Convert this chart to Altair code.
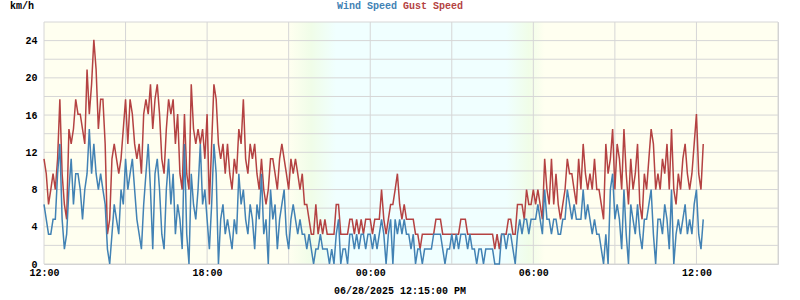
import altair as alt
import pandas as pd

# ---- data (km/h), 5-minute samples from 12:00 ----
gust_a = [11.3, 9.7, 6.4, 8.0, 9.7, 8.0, 11.3, 17.7, 9.7, 6.4,
          4.8, 14.5, 12.9, 14.5, 17.7, 16.1, 16.1, 14.5, 12.9, 20.9,
          16.1, 19.3, 24.1, 20.9, 14.5, 17.7, 17.7, 12.9, 3.2, 4.8,
          11.3, 12.9, 11.3, 9.7, 11.3, 14.5, 17.7, 12.9, 17.7, 16.1,
          12.9, 11.3, 12.9, 9.7, 16.1, 17.7, 16.1, 19.3, 14.5, 17.7]
wind_a = [6.4, 4.8, 3.2, 3.2, 4.8, 4.8, 9.7, 12.9, 4.8, 1.6,
          3.2, 8.0, 11.3, 6.4, 9.7, 9.7, 8.0, 4.8, 8.0, 9.7,
          14.5, 9.7, 12.9, 9.7, 8.0, 9.7, 8.0, 6.4, 1.6, 0,
          3.2, 6.4, 4.8, 3.2, 8.0, 6.4, 11.3, 8.0, 9.7, 11.3,
          8.0, 4.8, 3.2, 1.6, 6.4, 9.7, 12.9, 8.0, 1.6, 9.7]

gust_b = [19.3, 16.1, 11.3, 9.7, 14.5, 17.7, 16.1, 17.7, 12.9, 16.1,
          9.7, 8.0, 16.1, 9.7, 8.0, 19.3, 14.5, 12.9, 14.5, 12.9,
          14.5, 11.3, 16.1, 6.4, 12.9, 19.3, 17.7, 12.9, 11.3, 12.9,
          9.7, 12.9, 9.7, 8.0, 11.3, 9.7, 14.5, 12.9, 17.7, 11.3,
          9.7, 12.9, 11.3, 12.9, 9.7, 8.0, 11.3, 8.0, 6.4]
wind_b = [11.3, 8.0, 3.2, 1.6, 8.0, 11.3, 6.4, 9.7, 3.2, 6.4,
          4.8, 1.6, 12.9, 3.2, 0, 9.7, 6.4, 4.8, 8.0, 12.9,
          6.4, 8.0, 4.8, 1.6, 6.4, 12.9, 9.7, 0, 4.8, 6.4,
          3.2, 4.8, 3.2, 1.6, 4.8, 3.2, 9.7, 6.4, 8.0, 4.8,
          3.2, 6.4, 4.8, 1.6, 6.4, 4.8, 9.7, 3.2, 4.8]

gust_c = [8.0, 11.3, 11.3, 9.7, 8.0, 11.3, 12.9, 11.3, 9.7, 8.0,
          11.3, 9.7, 11.3, 9.7, 8.0, 9.7, 6.4, 6.4, 4.8, 3.2,
          3.2, 6.4, 3.2, 4.8, 3.2, 4.8, 3.2, 3.2, 3.2, 3.2,
          6.4, 6.4, 3.2, 3.2, 3.2, 3.2, 4.8, 4.8, 3.2, 4.8,
          3.2, 4.8, 3.2, 4.8, 4.8, 4.8, 3.2, 4.8]
wind_c = [0, 8.0, 4.8, 6.4, 1.6, 4.8, 6.4, 8.0, 3.2, 1.6,
          4.8, 6.4, 4.8, 3.2, 4.8, 3.2, 3.2, 1.6, 3.2, 1.6,
          0, 1.6, 1.6, 3.2, 1.6, 1.6, 1.6, 0, 1.6, 0,
          3.2, 4.8, 0, 1.6, 1.6, 0, 3.2, 3.2, 1.6, 3.2,
          1.6, 3.2, 3.2, 1.6, 3.2, 3.2, 1.6, 3.2]

gust_d = [4.8, 4.8, 8.0, 4.8, 3.2, 4.8, 6.4, 6.4, 8.0, 9.7,
          6.4, 4.8, 6.4, 4.8, 4.8, 4.8, 4.8, 3.2, 3.2, 1.6,
          3.2, 3.2, 3.2, 3.2, 3.2, 3.2, 4.8, 4.8, 4.8, 3.2,
          3.2, 3.2, 3.2, 3.2, 3.2, 3.2, 3.2, 4.8, 4.8, 4.8,
          3.2, 3.2, 3.2, 3.2, 3.2, 3.2, 3.2, 3.2, 3.2]
wind_d = [1.6, 3.2, 4.8, 3.2, 0, 3.2, 4.8, 0, 4.8, 3.2,
          4.8, 3.2, 4.8, 3.2, 3.2, 1.6, 3.2, 0, 1.6, 1.6,
          0, 1.6, 1.6, 1.6, 1.6, 3.2, 3.2, 3.2, 3.2, 1.6,
          0, 1.6, 1.6, 3.2, 1.6, 3.2, 1.6, 3.2, 3.2, 3.2,
          1.6, 3.2, 1.6, 1.6, 0, 1.6, 1.6, 0, 1.6]

gust_e = [3.2, 3.2, 3.2, 1.6, 3.2, 1.6, 3.2, 3.2, 3.2, 4.8,
          4.8, 3.2, 3.2, 6.4, 6.4, 6.4, 4.8, 8.0, 6.4, 6.4,
          8.0, 6.4, 8.0, 6.4, 4.8, 11.3, 8.0, 6.4, 11.3, 6.4,
          9.7, 6.4, 4.8, 6.4, 8.0, 11.3, 9.7, 9.7, 8.0, 6.4,
          11.3, 8.0, 12.9, 9.7, 8.0, 9.7, 8.0, 11.3, 8.0]
wind_e = [1.6, 1.6, 1.6, 0, 0, 0, 3.2, 3.2, 1.6, 3.2,
          3.2, 1.6, 0, 3.2, 4.8, 3.2, 4.8, 4.8, 3.2, 4.8,
          4.8, 4.8, 6.4, 4.8, 3.2, 8.0, 4.8, 4.8, 3.2, 4.8,
          4.8, 3.2, 3.2, 4.8, 4.8, 8.0, 6.4, 4.8, 6.4, 4.8,
          4.8, 4.8, 8.0, 4.8, 6.4, 4.8, 3.2, 4.8, 3.2]

gust_f = [8.0, 6.4, 4.8, 12.9, 9.7, 11.3, 14.5, 8.0, 12.9, 11.3,
          8.0, 14.5, 9.7, 6.4, 11.3, 8.0, 9.7, 12.9, 6.4, 4.8,
          9.7, 8.0, 11.3, 14.5, 12.9, 8.0, 9.7, 8.0, 11.3, 9.7,
          12.9, 8.0, 14.5, 8.0, 6.4, 9.7, 8.0, 11.3, 12.9, 9.7,
          8.0, 9.7, 12.9, 16.1, 9.7, 8.0, 12.9]
wind_f = [3.2, 1.6, 0, 3.2, 0, 8.0, 9.7, 4.8, 6.4, 4.8,
          1.6, 8.0, 3.2, 0, 6.4, 4.8, 3.2, 6.4, 3.2, 1.6,
          4.8, 4.8, 6.4, 8.0, 3.2, 0, 4.8, 4.8, 3.2, 6.4,
          4.8, 1.6, 8.0, 0, 3.2, 4.8, 3.2, 4.8, 6.4, 3.2,
          4.8, 3.2, 6.4, 8.0, 3.2, 1.6, 4.8]

gust = gust_a + gust_b + gust_c + gust_d + gust_e + gust_f
wind = wind_a + wind_b + wind_c + wind_d + wind_e + wind_f
assert len(gust) == len(wind)

times = pd.date_range("2025-06-27 12:00", periods=len(wind), freq="5min")
df = pd.DataFrame({"time": times, "wind": wind, "gust": gust})

title_wind = "Wind Speed"
title_gust = "Gust Speed"
unit_label = "km/h"
footer = "06/28/2025 12:15:00 PM"

y_grid_vals = list(range(0, 27, 2))

# ---- layout ----
PLOT_W, PLOT_H = 734, 242
FONT = "Liberation Mono"
BLUE, RED = "#4282b4", "#b44242"
DAY, EDGE, NIGHT = "#fffff0", "#f0fde8", "#f0ffff"
GRID = "#d6d6d6"

x_start = pd.Timestamp("2025-06-27 12:00")
x_end = pd.Timestamp("2025-06-28 15:00")
x_grid_times = [x_start + pd.Timedelta(hours=3 * k) for k in range(10)]


def dt(t):
    return alt.DateTime(year=t.year, month=t.month, date=t.day, hours=t.hour, minutes=t.minute)


def frac(t):
    return (pd.Timestamp(t) - x_start) / (x_end - x_start)


x_scale = alt.Scale(domain=[dt(x_start), dt(x_end)])
y_scale = alt.Scale(domain=[0, 26], nice=False)

x_axis = alt.Axis(
    values=[dt(t) for t in x_grid_times],
    labelExpr="hours(datum.value) % 6 == 0 ? timeFormat(datum.value, '%H:%M') : ''",
    title=None, labelPadding=3, labelFlush=False, labelOverlap=False, labelBound=False,
    grid=False,
)
y_axis = alt.Axis(
    values=y_grid_vals,
    labelExpr="datum.value % 4 == 0 ? datum.label : ''",
    title=None, labelPadding=7, labelFlush=False, labelOverlap=False, labelBound=False,
    grid=False,
)

gradient = alt.LinearGradient(
    gradient="linear", x1=0, x2=1, y1=0, y2=0,
    stops=[
        alt.GradientStop(color=DAY, offset=0.0),
        alt.GradientStop(color=DAY, offset=frac("2025-06-27 21:00")),
        alt.GradientStop(color=EDGE, offset=frac("2025-06-27 21:50")),
        alt.GradientStop(color=NIGHT, offset=frac("2025-06-27 22:45")),
        alt.GradientStop(color=NIGHT, offset=frac("2025-06-28 05:00")),
        alt.GradientStop(color=EDGE, offset=frac("2025-06-28 05:50")),
        alt.GradientStop(color=DAY, offset=frac("2025-06-28 06:25")),
        alt.GradientStop(color=DAY, offset=1.0),
    ],
)

background = alt.Chart(
    pd.DataFrame({"start": [x_start], "end": [x_end]})
).mark_rect(fill=gradient, strokeWidth=0).encode(
    x=alt.X("start:T", scale=x_scale, axis=x_axis),
    x2="end:T",
    y=alt.value(0),
    y2=alt.value(PLOT_H),
)

x_grid = alt.Chart(pd.DataFrame({"t": x_grid_times})).mark_rule(
    color=GRID, strokeWidth=1
).encode(
    x=alt.X("t:T", scale=x_scale, axis=x_axis),
    y=alt.value(0),
    y2=alt.value(PLOT_H),
)

y_grid = alt.Chart(pd.DataFrame({"v": y_grid_vals})).mark_rule(
    color=GRID, strokeWidth=1
).encode(
    y=alt.Y("v:Q", scale=y_scale, axis=y_axis),
    x=alt.value(0),
    x2=alt.value(PLOT_W),
)

base = alt.Chart(df).encode(x=alt.X("time:T", scale=x_scale, axis=x_axis))

gust_line = base.mark_line(color=RED, strokeWidth=1.5).encode(
    y=alt.Y("gust:Q", scale=y_scale, axis=y_axis)
)
wind_line = base.mark_line(color=BLUE, strokeWidth=1.5).encode(
    y=alt.Y("wind:Q", scale=y_scale, axis=y_axis)
)


def label(text, px, py, color="#000000", align="center"):
    return alt.Chart(pd.DataFrame({"t": [text]})).mark_text(
        font=FONT, fontSize=10, fontWeight="bold", color=color,
        align=align, baseline="middle",
    ).encode(x=alt.value(px), y=alt.value(py), text="t:N")


chart = alt.layer(
    background,
    x_grid,
    y_grid,
    gust_line,
    wind_line,
    label(title_wind, 353, -16, BLUE, "right"),
    label(title_gust, 359, -16, RED, "left"),
    label(unit_label, -34, -16, "#000000", "left"),
    label(footer, 356, 269),
).properties(
    width=PLOT_W, height=PLOT_H, autosize="none",
    padding={"left": 44, "right": 22, "top": 22, "bottom": 36},
).configure_axis(
    labelFont=FONT, labelFontSize=10, labelFontWeight="bold", labelColor="#000000",
    domain=False, ticks=False, tickSize=0,
).configure_view(
    stroke="#d0d0d0", strokeWidth=1,
)

chart.save("out.html", embed_options={"renderer": "svg", "actions": False})
